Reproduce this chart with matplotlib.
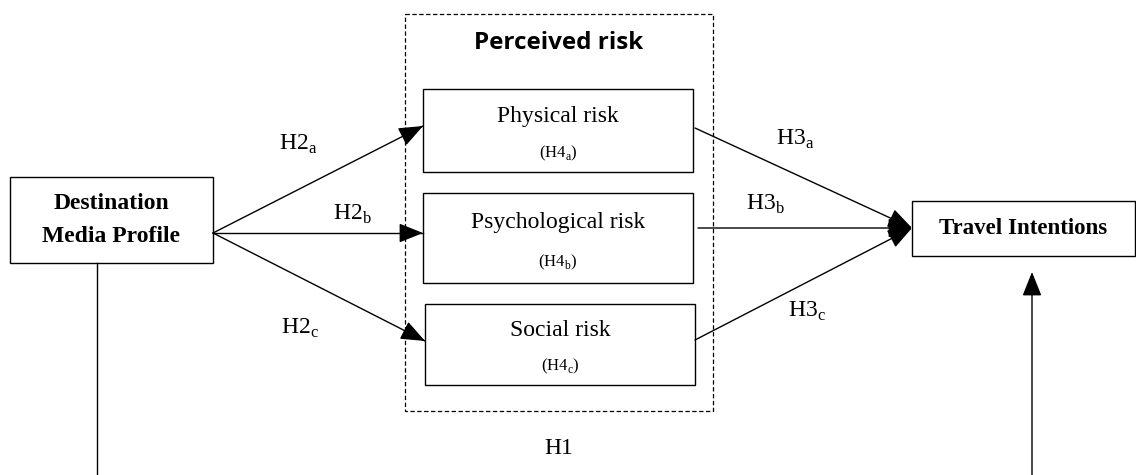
import matplotlib.pyplot as plt
from matplotlib.patches import Rectangle

plt.rcParams["mathtext.fontset"] = "custom"
plt.rcParams["mathtext.rm"] = "Liberation Serif"

# Diagram content
group_title = "Perceived risk"
risk_names = ["Physical risk", "Psychological risk", "Social risk"]
risk_tags = ["a", "b", "c"]
source_label = "Destination\nMedia Profile"
target_label = "Travel Intentions"
direct_label = "H1"

# Layout (pixel coordinates, y grows downward)
W, H = 1136, 475
risk_boxes = [(423, 89, 270, 83), (423, 193, 270, 90), (425, 304, 270, 81)]
src_box = (10, 177, 203, 86)
tgt_box = (912, 201, 223, 55)
dash_box = (405, 14, 308, 397)
h2_pos = [(298, 144), (352, 214), (300, 328)]
h3_pos = [(795, 139), (765, 204), (807, 311)]

fig = plt.figure(figsize=(W / 100, H / 100), dpi=100)
ax = fig.add_axes([0, 0, 1, 1])
ax.set_xlim(0, W)
ax.set_ylim(H, 0)
ax.axis("off")

serif = "Liberation Serif"
lw = 1.0


def box(x, y, w, h, **kw):
    ax.add_patch(Rectangle((x, y), w, h, fill=False, lw=kw.pop("lw", lw),
                           edgecolor="black", **kw))


def arrow(x0, y0, x1, y1):
    ax.annotate("", xy=(x1, y1), xytext=(x0, y0),
                arrowprops=dict(arrowstyle="-|>,head_length=0.75,head_width=0.3",
                                mutation_scale=20, lw=lw, color="black",
                                shrinkA=0, shrinkB=0))


# dashed group box
box(*dash_box, lw=0.9, linestyle=(0, (3.5, 2)))
ax.text(dash_box[0] + dash_box[2] / 2, 43, group_title, ha="center", va="center",
        fontsize=17.5, fontweight="bold", family="Open Sans")

# risk boxes
for (x, y, w, h), name, tag in zip(risk_boxes, risk_names, risk_tags):
    box(x, y, w, h)
    ax.text(x + w / 2, y + h * 0.33, name, ha="center", va="center",
            fontsize=17, family=serif)
    ax.text(x + w / 2, y + h * 0.77, r"(H4$_\mathregular{%s}$)" % tag,
            ha="center", va="center", fontsize=12, family=serif)

# source and target
box(*src_box)
ax.text(src_box[0] + src_box[2] / 2, src_box[1] + src_box[3] / 2, source_label,
        ha="center", va="center", fontsize=17, fontweight="bold", family=serif,
        linespacing=1.7)
box(*tgt_box)
ax.text(tgt_box[0] + tgt_box[2] / 2, tgt_box[1] + tgt_box[3] / 2, target_label,
        ha="center", va="center", fontsize=16.5, fontweight="bold", family=serif)

# H2 arrows
sx, sy = src_box[0] + src_box[2], 233
h2_tips = [(423, 126), (423, 233), (425, 341)]
for (tx, ty) in h2_tips:
    ax.plot([sx, tx], [sy, ty], color="black", lw=lw)
    arrow(tx - 20, ty + (sy - ty) * 20 / (tx - sx), tx, ty)

# H3 arrows
tgt_pt = (912, 228)
h3_starts = [(695, 128), (698, 228), (695, 340)]
for (x0, y0) in h3_starts:
    arrow(x0, y0, *tgt_pt)

for (x, y), tag in zip(h2_pos, risk_tags):
    ax.text(x, y, r"H2$_\mathregular{%s}$" % tag, ha="center", va="center",
            fontsize=17, family=serif)
for (x, y), tag in zip(h3_pos, risk_tags):
    ax.text(x, y, r"H3$_\mathregular{%s}$" % tag, ha="center", va="center",
            fontsize=17, family=serif)

# H1 path
ax.plot([97, 97], [src_box[1] + src_box[3], H], color="black", lw=lw)
arrow(1032, H, 1032, 272)
ax.text(559, 448, direct_label, ha="center", va="center", fontsize=17, family=serif)

fig.savefig("out.png", dpi=100)
